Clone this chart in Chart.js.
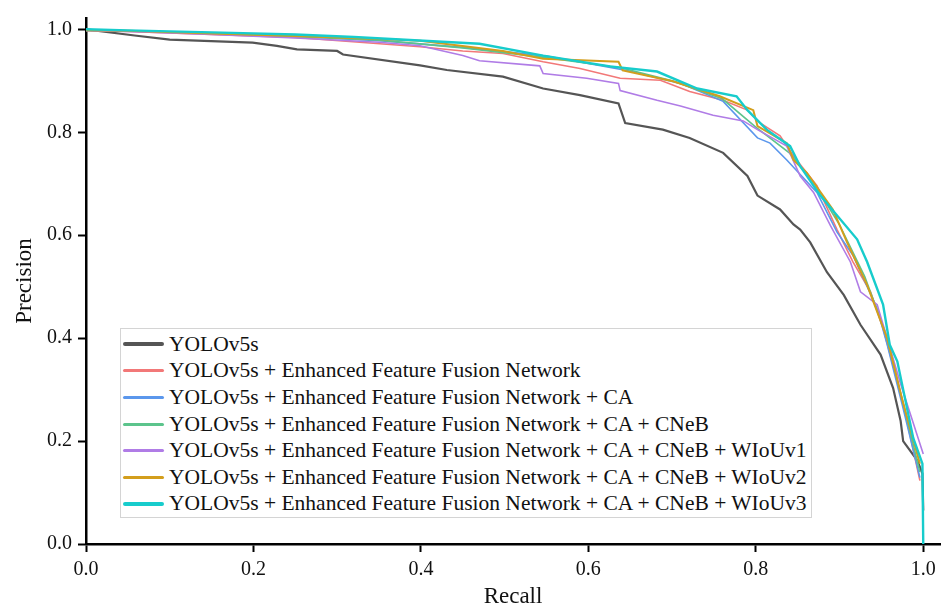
<!DOCTYPE html>
<html>
<head>
<meta charset="utf-8">
<script src="https://cdn.jsdelivr.net/npm/chart.js"></script>
<style>
  body { margin:0; background:#fff; }
  #wrap { position:relative; width:943px; height:608px; }
  #legend { position:absolute; left:120px; top:328px; width:692px; height:190px; border:1px solid #d4d4d4; background:#fff; padding-top:2px; box-sizing:border-box; }
  .row { height:26.6px; display:flex; align-items:center; font-family:"Liberation Serif", "Times New Roman", "Liberation Sans", sans-serif; font-size:21.5px; color:#111; white-space:nowrap; }
  .swatch { width:41px; margin-left:2px; margin-right:5px; border-radius:2px; }
</style>
</head>
<body>
<div id="wrap">
  <canvas id="pr" width="943" height="608"></canvas>
  <div id="legend"></div>
</div>
<script>
// series names and colours
const names = [
  'YOLOv5s',
  'YOLOv5s + Enhanced Feature Fusion Network',
  'YOLOv5s + Enhanced Feature Fusion Network + CA',
  'YOLOv5s + Enhanced Feature Fusion Network + CA + CNeB',
  'YOLOv5s + Enhanced Feature Fusion Network + CA + CNeB + WIoUv1',
  'YOLOv5s + Enhanced Feature Fusion Network + CA + CNeB + WIoUv2',
  'YOLOv5s + Enhanced Feature Fusion Network + CA + CNeB + WIoUv3'
];
const colors = ['#555555', '#f27878', '#5b97ec', '#5cc48c', '#b07ce6', '#d39e1c', '#17cccc'];
const widths = [2.2, 1.6, 1.6, 1.6, 1.6, 2, 2.4];

// recall / precision
const recallBase = [0, 0.058, 0.10, 0.199, 0.228, 0.252, 0.30, 0.307, 0.399, 0.431, 0.498, 0.546, 0.59, 0.636, 0.644, 0.689, 0.721, 0.761, 0.79, 0.802, 0.829, 0.845, 0.853, 0.865, 0.885, 0.905, 0.925, 0.949, 0.964, 0.973, 0.976, 0.993, 0.999, 1.0];
const precBase   = [1.0, 0.988, 0.98, 0.974, 0.968, 0.961, 0.958, 0.951, 0.93, 0.921, 0.908, 0.885, 0.872, 0.856, 0.818, 0.805, 0.789, 0.76, 0.715, 0.677, 0.65, 0.621, 0.611, 0.586, 0.528, 0.484, 0.426, 0.368, 0.303, 0.239, 0.2, 0.162, 0.137, 0.065];

const recallEFF = [0, 0.05, 0.15, 0.25, 0.351, 0.399, 0.45, 0.498, 0.546, 0.59, 0.638, 0.686, 0.721, 0.761, 0.79, 0.805, 0.829, 0.845, 0.873, 0.897, 0.916, 0.937, 0.952, 0.975, 0.996];
const precEFF   = [0.998, 0.996, 0.99, 0.984, 0.972, 0.966, 0.958, 0.953, 0.937, 0.924, 0.905, 0.901, 0.879, 0.862, 0.843, 0.818, 0.793, 0.754, 0.696, 0.611, 0.548, 0.49, 0.419, 0.28, 0.123];

const recallCA = [0, 0.05, 0.15, 0.25, 0.35, 0.45, 0.55, 0.646, 0.71, 0.761, 0.802, 0.817, 0.837, 0.873, 0.897, 0.916, 0.945, 0.957, 0.975, 0.996];
const precCA   = [0.998, 0.997, 0.992, 0.986, 0.978, 0.965, 0.948, 0.92, 0.895, 0.86, 0.789, 0.779, 0.746, 0.683, 0.606, 0.561, 0.457, 0.387, 0.27, 0.129];

const recallCNeB = [0, 0.05, 0.15, 0.25, 0.35, 0.45, 0.55, 0.64, 0.70, 0.76, 0.80, 0.84, 0.87, 0.90, 0.93, 0.955, 0.975, 0.996];
const precCNeB   = [0.998, 0.997, 0.992, 0.986, 0.979, 0.964, 0.945, 0.925, 0.9, 0.865, 0.81, 0.76, 0.7, 0.62, 0.52, 0.41, 0.28, 0.14];

const recallW1 = [0, 0.05, 0.15, 0.25, 0.35, 0.399, 0.45, 0.47, 0.542, 0.546, 0.598, 0.636, 0.638, 0.682, 0.71, 0.749, 0.785, 0.802, 0.837, 0.853, 0.869, 0.889, 0.913, 0.925, 0.945, 0.973, 1.0];
const precW1   = [0.998, 0.996, 0.99, 0.983, 0.975, 0.968, 0.949, 0.939, 0.929, 0.914, 0.905, 0.895, 0.881, 0.862, 0.851, 0.833, 0.822, 0.805, 0.773, 0.715, 0.683, 0.619, 0.548, 0.49, 0.465, 0.311, 0.175];

const recallW2 = [0, 0.05, 0.15, 0.25, 0.35, 0.399, 0.498, 0.546, 0.636, 0.641, 0.701, 0.757, 0.797, 0.802, 0.837, 0.845, 0.861, 0.892, 0.909, 0.933, 0.957, 0.975, 0.996];
const precW2   = [0.998, 0.997, 0.992, 0.987, 0.981, 0.978, 0.958, 0.943, 0.937, 0.92, 0.899, 0.87, 0.843, 0.812, 0.779, 0.746, 0.721, 0.65, 0.586, 0.503, 0.399, 0.28, 0.156];

const recallW3 = [0, 0.05, 0.15, 0.25, 0.32, 0.47, 0.546, 0.626, 0.682, 0.73, 0.777, 0.79, 0.813, 0.841, 0.853, 0.877, 0.921, 0.933, 0.952, 0.96, 0.969, 0.988, 0.999, 1.0];
const precW3   = [1.0, 0.998, 0.994, 0.99, 0.985, 0.972, 0.949, 0.928, 0.918, 0.885, 0.87, 0.843, 0.805, 0.773, 0.734, 0.677, 0.592, 0.548, 0.465, 0.387, 0.355, 0.206, 0.156, 0.0];

const tickVals = [0, 0.2, 0.4, 0.6, 0.8, 1.0];

const recalls = [recallBase, recallEFF, recallCA, recallCNeB, recallW1, recallW2, recallW3];
const precs = [precBase, precEFF, precCA, precCNeB, precW1, precW2, precW3];

const datasets = names.map((n, i) => ({
  label: n,
  data: recalls[i].map((r, k) => ({x: r, y: precs[i][k]})),
  borderColor: colors[i],
  borderWidth: widths[i],
  pointRadius: 0,
  tension: 0,
  fill: false,
  order: names.length - i
}));

// no serif face in the sandbox, falls back to Liberation Sans
const serif = '"Liberation Serif", "Times New Roman", "Liberation Sans", sans-serif';
const fixTicks = s => { s.ticks = tickVals.map(v => ({value: v})); };

new Chart(document.getElementById('pr').getContext('2d'), {
  type: 'line',
  data: {datasets},
  options: {
    responsive: false,
    animation: false,
    layout: {padding: {top: 14, right: 3, left: 0, bottom: 0}},
    plugins: {legend: {display: false}, tooltip: {enabled: false}},
    scales: {
      x: {
        type: 'linear', min: 0, max: 1.02,
        afterBuildTicks: fixTicks,
        afterFit: s => { s.height = 64; },
        grid: {drawOnChartArea: false, drawTicks: true, tickLength: 8, tickWidth: 2, tickColor: '#000'},
        border: {display: true, color: '#000', width: 2.5},
        ticks: {color: '#111', padding: 6, font: {family: serif, size: 20}, callback: v => v.toFixed(1)},
        title: {display: true, text: 'Recall', color: '#111', font: {family: serif, size: 23, lineHeight: 1}, padding: {top: 0, bottom: 0}}
      },
      y: {
        min: 0, max: 1.022,
        afterBuildTicks: fixTicks,
        afterFit: s => { s.width = 86; },
        grid: {drawOnChartArea: false, drawTicks: true, tickLength: 8, tickWidth: 2, tickColor: '#000'},
        border: {display: true, color: '#000', width: 2.5},
        ticks: {color: '#111', padding: 6, font: {family: serif, size: 20}, callback: v => v.toFixed(1)},
        title: {display: true, text: 'Precision', color: '#111', font: {family: serif, size: 23, lineHeight: 1}, padding: {top: 13, bottom: 0}}
      }
    }
  }
});

// legend inside the plot, built from the same names/colours
const leg = document.getElementById('legend');
names.forEach((n, i) => {
  const row = document.createElement('div');
  row.className = 'row';
  const sw = document.createElement('span');
  sw.className = 'swatch';
  sw.style.height = (i === 0 || i === 6 ? 4 : 3) + 'px';
  sw.style.background = colors[i];
  row.appendChild(sw);
  row.appendChild(document.createTextNode(n));
  leg.appendChild(row);
});
</script>
</body>
</html>
